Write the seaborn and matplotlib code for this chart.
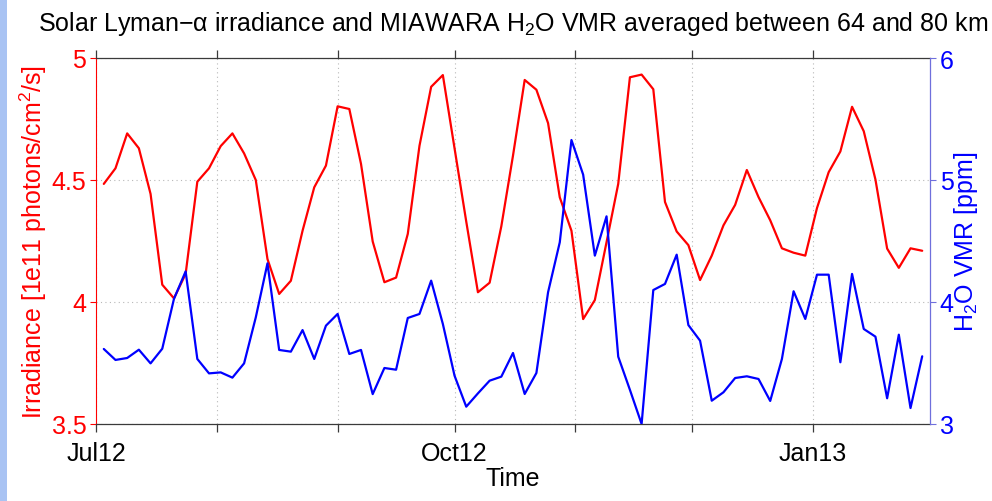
import numpy as np
import pandas as pd
import matplotlib
matplotlib.use("Agg")
import matplotlib.pyplot as plt
import seaborn as sns
from matplotlib.patches import Rectangle

# ---------------- data ----------------
start_date = "2012-07-03"
step_days = 3

irradiance = [
    4.484, 4.548, 4.691, 4.630, 4.443, 4.071, 4.015, 4.115, 4.493, 4.548,
    4.639, 4.691, 4.609, 4.500, 4.176, 4.033, 4.087, 4.292, 4.470, 4.559,
    4.802, 4.791, 4.566, 4.248, 4.081, 4.100, 4.279, 4.640, 4.882, 4.930,
    4.630, 4.330, 4.040, 4.079, 4.310, 4.600, 4.910, 4.870, 4.733, 4.429,
    4.292, 3.930, 4.008, 4.245, 4.484, 4.921, 4.932, 4.872, 4.410, 4.289,
    4.233, 4.090, 4.190, 4.314, 4.398, 4.541, 4.430, 4.335, 4.220, 4.202,
    4.190, 4.385, 4.532, 4.617, 4.800, 4.700, 4.502, 4.219, 4.140, 4.220,
    4.210,
]

h2o_vmr = [
    3.615, 3.525, 3.541, 3.609, 3.497, 3.617, 4.025, 4.251, 3.533, 3.415,
    3.423, 3.380, 3.497, 3.874, 4.317, 3.607, 3.593, 3.770, 3.533, 3.806,
    3.902, 3.574, 3.607, 3.245, 3.459, 3.445, 3.869, 3.902, 4.175, 3.820,
    3.396, 3.142, 3.251, 3.355, 3.388, 3.582, 3.246, 3.418, 4.080, 4.489,
    5.328, 5.044, 4.380, 4.702, 3.552, 3.280, 3.000, 4.098, 4.148, 4.388,
    3.811, 3.683, 3.191, 3.260, 3.377, 3.391, 3.369, 3.189, 3.533, 4.088,
    3.861, 4.224, 4.224, 3.506, 4.230, 3.779, 3.716, 3.211, 3.732, 3.131,
    3.555,
]

month_ticks = ["2012-07-01", "2012-08-01", "2012-09-01", "2012-10-01",
               "2012-11-01", "2012-12-01", "2013-01-01"]
month_labels = ["Jul12", "", "", "Oct12", "", "", "Jan13"]
x_limits = ["2012-07-01", "2013-01-31"]

left_ticks = [3.5, 4.0, 4.5, 5.0]
left_tick_labels = ["3.5", "4", "4.5", "5"]
right_ticks = [3, 4, 5, 6]
right_tick_labels = ["3", "4", "5", "6"]

title_text = "Solar Lyman\u2212\u03b1 irradiance and MIAWARA H$_2$O VMR averaged between 64 and 80 km"
left_label = "Irradiance [1e11 photons/cm$^2$/s]"
right_label = "H$_2$O VMR [ppm]"
x_label = "Time"

# ---------------- frame ----------------
dates = pd.date_range(start_date, periods=len(irradiance), freq=f"{step_days}D")
df = pd.DataFrame({"date": dates, "irr": irradiance, "h2o": h2o_vmr})

sns.set_style("white")
plt.rcParams["font.family"] = ["Liberation Sans", "DejaVu Sans"]
plt.rcParams["mathtext.fontset"] = "custom"
plt.rcParams["mathtext.rm"] = "Liberation Sans"
plt.rcParams["mathtext.it"] = "Liberation Sans:italic"
plt.rcParams["mathtext.bf"] = "Liberation Sans:bold"

RED = "#ff0000"
BLUE = "#0000ff"
RSPINE = "#6f6fdc"

fig = plt.figure(figsize=(9.92, 5.02), dpi=100)
fig.patch.set_facecolor("white")
fig.patches.append(Rectangle((0, 0), 7 / 992, 1, transform=fig.transFigure,
                             facecolor="#a9c3f3", edgecolor="none", zorder=0))

ax = fig.add_axes([96 / 992, 77 / 502, 834 / 992, 366 / 502])
sns.lineplot(data=df, x="date", y="irr", ax=ax, color=RED, linewidth=1.6)

ax2 = ax.twinx()
sns.lineplot(data=df, x="date", y="h2o", ax=ax2, color=BLUE, linewidth=1.6)

ax.set_xlim(pd.Timestamp(x_limits[0]), pd.Timestamp(x_limits[1]))
ax.set_ylim(left_ticks[0], left_ticks[-1])
ax2.set_ylim(right_ticks[0], right_ticks[-1])

ax.set_xticks(pd.to_datetime(month_ticks))
ax.set_xticklabels(month_labels)
ax.set_yticks(left_ticks)
ax.set_yticklabels(left_tick_labels)
ax2.set_yticks(right_ticks)
ax2.set_yticklabels(right_tick_labels)

ax.grid(True, linestyle=(0, (1, 3)), color="#b8b8b8", linewidth=0.8)
ax.set_axisbelow(True)

# spines
for s in ["top", "bottom"]:
    ax.spines[s].set_color("#3a3a3a")
    ax.spines[s].set_linewidth(0.9)
ax.spines["left"].set_color(RED)
ax.spines["left"].set_linewidth(0.8)
ax.spines["right"].set_visible(False)
for s in ["top", "bottom", "left"]:
    ax2.spines[s].set_visible(False)
ax2.spines["right"].set_color(RSPINE)
ax2.spines["right"].set_linewidth(0.9)

# ticks
ax.tick_params(axis="x", which="both", direction="out", top=True, bottom=True,
               length=6, width=0.9, color="#3a3a3a", labelsize=18,
               labelcolor="black", pad=6)
ax.tick_params(axis="y", direction="out", left=True, right=False, length=4,
               width=0.8, color=RED, labelsize=18, labelcolor=RED, pad=3)
ax2.tick_params(axis="y", direction="out", right=True, left=False, length=4,
                width=0.8, color=RSPINE, labelsize=18, labelcolor=BLUE, pad=3)

ax.set_xlabel(x_label, fontsize=18, color="black", labelpad=1)
ax.set_ylabel(left_label, fontsize=18, color=RED, labelpad=2)
ax2.set_ylabel(right_label, fontsize=18, color=BLUE, labelpad=-1)
ax.set_title(title_text, fontsize=18, color="black", pad=20)

fig.savefig("out.png", dpi=100)
